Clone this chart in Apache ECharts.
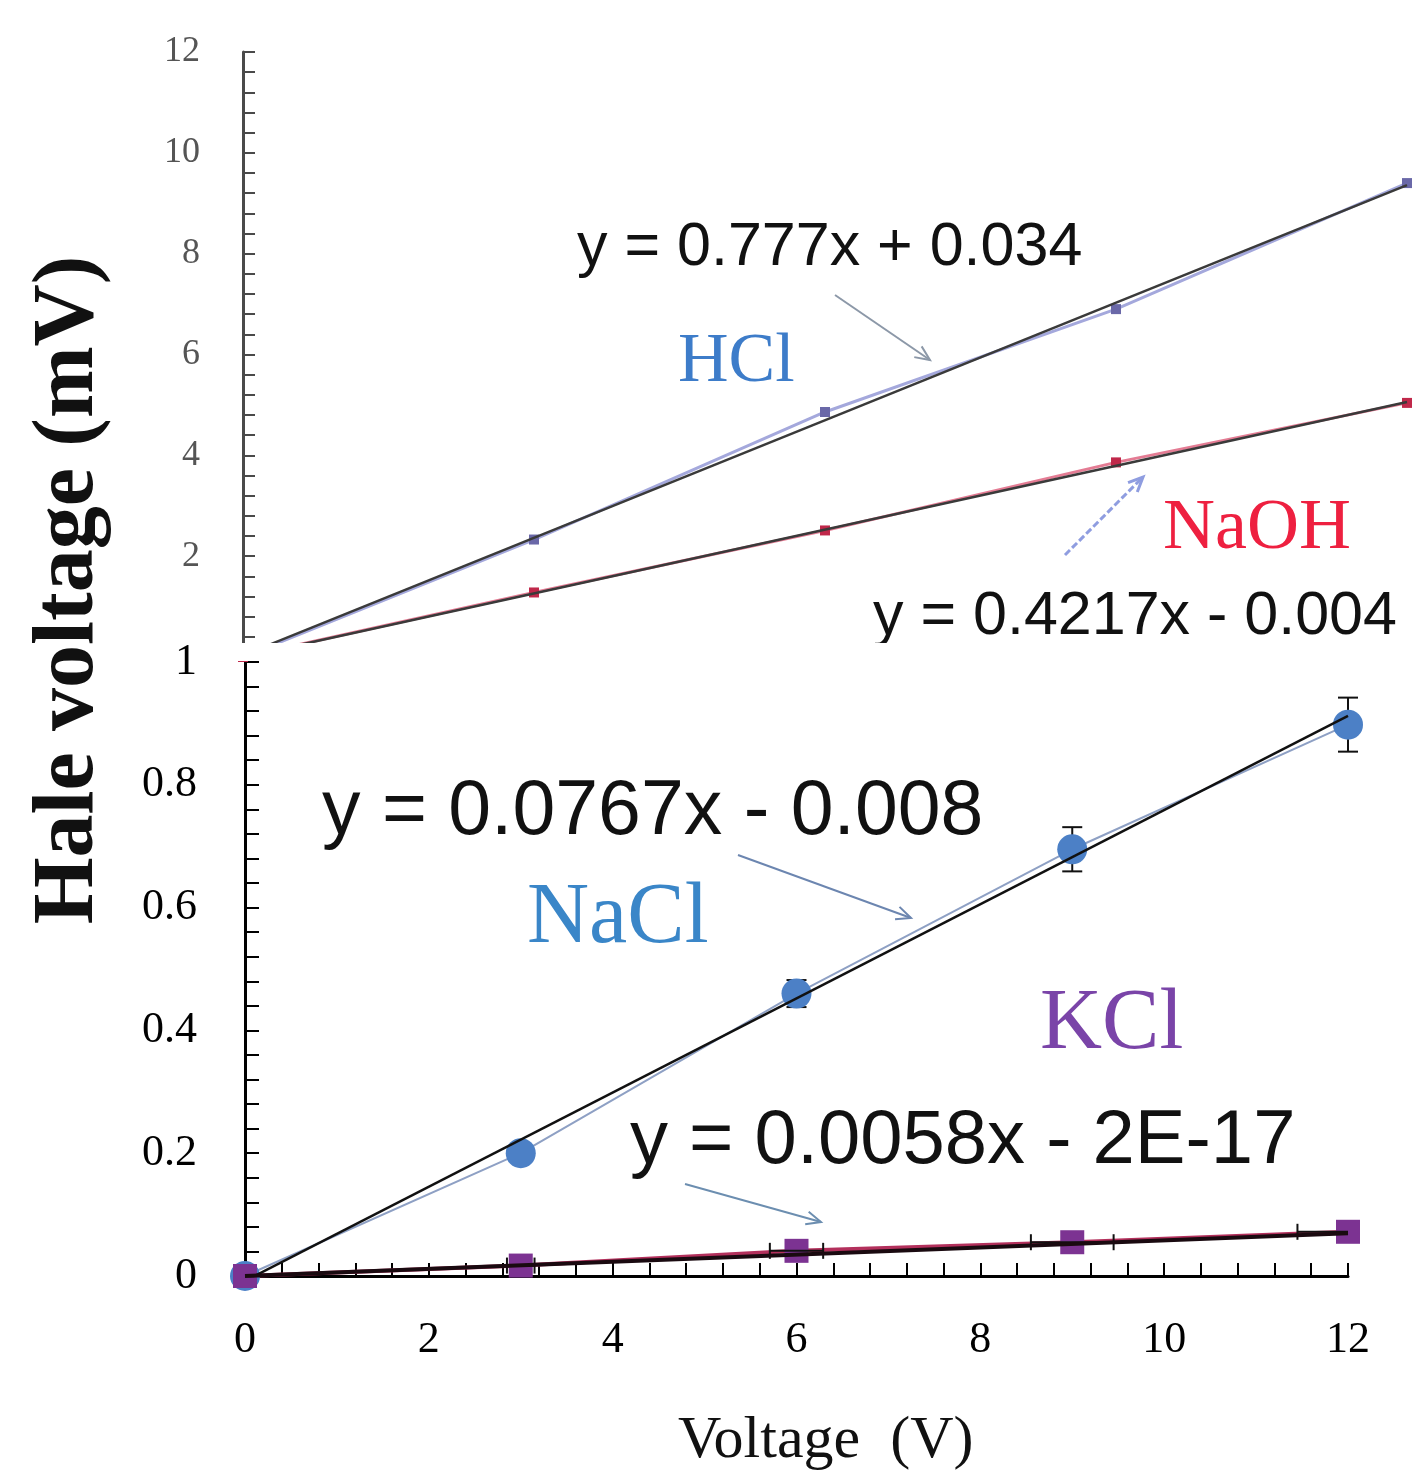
<!DOCTYPE html>
<html>
<head>
<meta charset="utf-8">
<script src="https://cdn.jsdelivr.net/npm/echarts@6/dist/echarts.min.js"></script>
<style>
  html, body { margin: 0; padding: 0; background: #fff; }
  #chart { width: 1415px; height: 1481px; }
</style>
</head>
<body>
<div id="chart"></div>
<script>
// Applied voltage (V) for every measurement
const voltage = [0, 3, 6, 9, 12];

// Hale voltage (mV) measured for each electrolyte
const hclHale  = [0, 2.33, 4.86, 6.90, 9.40];
const naohHale = [0, 1.28, 2.51, 3.86, 5.04];
const naclHale = [0, 0.200, 0.460, 0.695, 0.898];
const kclHale  = [0, 0.017, 0.041, 0.055, 0.072];

// Error bars: NaCl vertical (mV), KCl horizontal (V)
const naclErr = [0, 0.01, 0.022, 0.036, 0.044];
const kclXErr = [0, 0.15, 0.29, 0.45, 0.55];

// Linear fits [slope, intercept]
const hclFit  = [0.777, 0.034];
const naohFit = [0.4217, -0.004];
const naclFit = [0.0767, -0.008];
const kclFit  = [0.0058, -2e-17];

// Fit equations as printed
const hclEq  = 'y = 0.777x + 0.034';
const naohEq = 'y = 0.4217x - 0.004';
const naclEq = 'y = 0.0767x - 0.008';
const kclEq  = 'y = 0.0058x - 2E-17';

// Tick labels
const upperYLabels = [2, 4, 6, 8, 10, 12];
const lowerYLabels = [0, 0.2, 0.4, 0.6, 0.8, 1];
const xLabels = [0, 2, 4, 6, 8, 10, 12];

const pairs = (ys) => voltage.map((x, i) => [x, ys[i]]);
const withErr = (ys, es) => voltage.map((x, i) => [x, ys[i], es[i]]);
const fitLine = (f) => [[0, f[1]], [12, f[0] * 12 + f[1]]];
const labelFrom = (list, digits) => (v) => {
  const r = Math.round(v * Math.pow(10, digits)) / Math.pow(10, digits);
  return list.indexOf(r) >= 0 ? String(r) : '';
};

function arrow(x1, y1, x2, y2, color, width, dash) {
  const a = Math.atan2(y2 - y1, x2 - x1);
  const L = 16, s = 0.42;
  return {
    type: 'group', z: 60,
    children: [
      { type: 'line', shape: { x1, y1, x2, y2 },
        style: { stroke: color, lineWidth: width, lineDash: dash || null } },
      { type: 'polyline',
        shape: { points: [
          [x2 - L * Math.cos(a - s), y2 - L * Math.sin(a - s)],
          [x2, y2],
          [x2 - L * Math.cos(a + s), y2 - L * Math.sin(a + s)]
        ] },
        style: { stroke: color, lineWidth: width, fill: null } }
    ]
  };
}

function label(text, x, y, size, color, family, extra) {
  return Object.assign({
    type: 'text', x, y, z: 50,
    style: {
      text, fill: color,
      font: size + 'px "' + family + '"',
      textAlign: 'left', textVerticalAlign: 'middle'
    }
  }, extra || {});
}

const vErrBars = (params, api) => {
  const x = api.value(0), y = api.value(1), e = api.value(2);
  if (!e) return null;
  const t = api.coord([x, y + e]), b = api.coord([x, y - e]);
  const st = { stroke: '#111', lineWidth: 2 };
  return { type: 'group', children: [
    { type: 'line', shape: { x1: t[0], y1: t[1], x2: b[0], y2: b[1] }, style: st },
    { type: 'line', shape: { x1: t[0] - 10, y1: t[1], x2: t[0] + 10, y2: t[1] }, style: st },
    { type: 'line', shape: { x1: b[0] - 10, y1: b[1], x2: b[0] + 10, y2: b[1] }, style: st }
  ] };
};

const hErrBars = (params, api) => {
  const x = api.value(0), y = api.value(1), e = api.value(2);
  if (!e) return null;
  const l = api.coord([x - e, y]), r = api.coord([x + e, y]);
  const st = { stroke: '#111', lineWidth: 2 };
  return { type: 'group', children: [
    { type: 'line', shape: { x1: l[0], y1: l[1], x2: r[0], y2: r[1] }, style: st },
    { type: 'line', shape: { x1: l[0], y1: l[1] - 8, x2: l[0], y2: l[1] + 8 }, style: st },
    { type: 'line', shape: { x1: r[0], y1: r[1] - 8, x2: r[0], y2: r[1] + 8 }, style: st }
  ] };
};

const chart = echarts.init(document.getElementById('chart'));

chart.setOption({
  backgroundColor: '#ffffff',
  animation: false,
  grid: [
    { left: 243, right: 8, top: 52, bottom: 824 },
    { left: 245, right: 67, top: 662, bottom: 205 }
  ],
  xAxis: [
    { gridIndex: 0, type: 'value', min: 0, max: 12, show: false },
    { gridIndex: 1, type: 'value', min: 0, max: 12, interval: 0.4,
      axisLine: { lineStyle: { color: '#000', width: 3 } },
      axisTick: { inside: true, length: 13, lineStyle: { color: '#000', width: 2 } },
      axisLabel: { formatter: labelFrom(xLabels, 1), margin: 42, color: '#000',
        fontSize: 44, fontFamily: 'Liberation Serif' },
      splitLine: { show: false } }
  ],
  yAxis: [
    { gridIndex: 0, type: 'value', min: 0, max: 12, interval: 0.4,
      axisLine: { lineStyle: { color: '#4a4a4a', width: 3 } },
      axisTick: { inside: true, length: 12, lineStyle: { color: '#4a4a4a', width: 2 } },
      axisLabel: { formatter: labelFrom(upperYLabels, 1), margin: 43, color: '#555',
        fontSize: 36, fontFamily: 'Liberation Serif' },
      splitLine: { show: false } },
    { gridIndex: 1, type: 'value', min: 0, max: 1, interval: 0.04,
      axisLine: { lineStyle: { color: '#000', width: 3 } },
      axisTick: { inside: true, length: 14, lineStyle: { color: '#000', width: 2 } },
      axisLabel: { formatter: labelFrom(lowerYLabels, 2), margin: 48, color: '#000',
        fontSize: 44, fontFamily: 'Liberation Serif' },
      splitLine: { show: false } }
  ],
  series: [
    // Upper panel: HCl and NaOH
    { name: 'HCl', type: 'line', xAxisIndex: 0, yAxisIndex: 0, data: pairs(hclHale),
      symbol: 'rect', symbolSize: 10, z: 3,
      itemStyle: { color: '#6a68a8' },
      lineStyle: { color: '#a4a8dc', width: 3 } },
    { name: 'HCl fit', type: 'line', xAxisIndex: 0, yAxisIndex: 0, data: fitLine(hclFit),
      symbol: 'none', z: 4, lineStyle: { color: '#3a3a3a', width: 2.5 } },
    { name: 'NaOH', type: 'line', xAxisIndex: 0, yAxisIndex: 0, data: pairs(naohHale),
      symbol: 'rect', symbolSize: 10, z: 3,
      itemStyle: { color: '#c0284a' },
      lineStyle: { color: '#e47c94', width: 3 } },
    { name: 'NaOH fit', type: 'line', xAxisIndex: 0, yAxisIndex: 0, data: fitLine(naohFit),
      symbol: 'none', z: 4, lineStyle: { color: '#3a3a3a', width: 2.5 } },

    // Lower panel: NaCl and KCl
    { name: 'NaCl err', type: 'custom', xAxisIndex: 1, yAxisIndex: 1, z: 2,
      data: withErr(naclHale, naclErr), renderItem: vErrBars },
    { name: 'NaCl', type: 'line', xAxisIndex: 1, yAxisIndex: 1, data: pairs(naclHale),
      symbol: 'circle', symbolSize: 30, z: 3,
      itemStyle: { color: '#4c80c6' },
      lineStyle: { color: '#8ea0c4', width: 2 } },
    { name: 'NaCl fit', type: 'line', xAxisIndex: 1, yAxisIndex: 1, data: fitLine(naclFit),
      symbol: 'none', z: 6, lineStyle: { color: '#111', width: 2.5 } },
    { name: 'KCl', type: 'line', xAxisIndex: 1, yAxisIndex: 1, data: pairs(kclHale),
      symbol: 'rect', symbolSize: 24, z: 3,
      itemStyle: { color: '#7c3392' },
      lineStyle: { color: '#b3305c', width: 4 } },
    { name: 'KCl err', type: 'custom', xAxisIndex: 1, yAxisIndex: 1, z: 5, clip: true,
      data: withErr(kclHale, kclXErr), renderItem: hErrBars },
    { name: 'KCl fit', type: 'line', xAxisIndex: 1, yAxisIndex: 1, data: fitLine(kclFit),
      symbol: 'none', z: 6, lineStyle: { color: '#1a0a10', width: 4 } }
  ],
  graphic: [
    label(hclEq, 577, 248, 61, '#111', 'Liberation Sans'),
    label('HCl', 678, 363, 70, '#3d7cc9', 'Liberation Serif'),
    label('NaOH', 1163, 529, 72, '#ee2040', 'Liberation Serif'),
    label(naohEq, 873, 617, 61, '#111', 'Liberation Sans'),
    label(naclEq, 322, 813, 77, '#111', 'Liberation Sans'),
    label('NaCl', 527, 919, 86, '#3a86c8', 'Liberation Serif'),
    label('KCl', 1040, 1025, 86, '#7a44a8', 'Liberation Serif'),
    label(kclEq, 630, 1142, 76, '#111', 'Liberation Sans'),
    label('Voltage  (V)', 678, 1441, 60, '#111', 'Liberation Serif'),
    label('Hale voltage (mV)', 70, 590, 84, '#111', 'Liberation Serif', {
      rotation: Math.PI / 2,
      style: { text: 'Hale voltage (mV)', fill: '#111',
        font: 'bold 86px "Liberation Serif"',
        textAlign: 'center', textVerticalAlign: 'middle' }
    }),
    arrow(835, 295, 930, 360, '#8c98a8', 2),
    arrow(1065, 555, 1143, 477, '#8f9de0', 3, [7, 3]),
    arrow(738, 855, 911, 918, '#6c86b0', 2),
    arrow(685, 1184, 821, 1222, '#6c8eb0', 2),
    // the upper panel ends just above the lower one
    { type: 'rect', z: 100, shape: { x: 225, y: 643, width: 1190, height: 18 },
      style: { fill: '#ffffff' } }
  ]
});
</script>
</body>
</html>
